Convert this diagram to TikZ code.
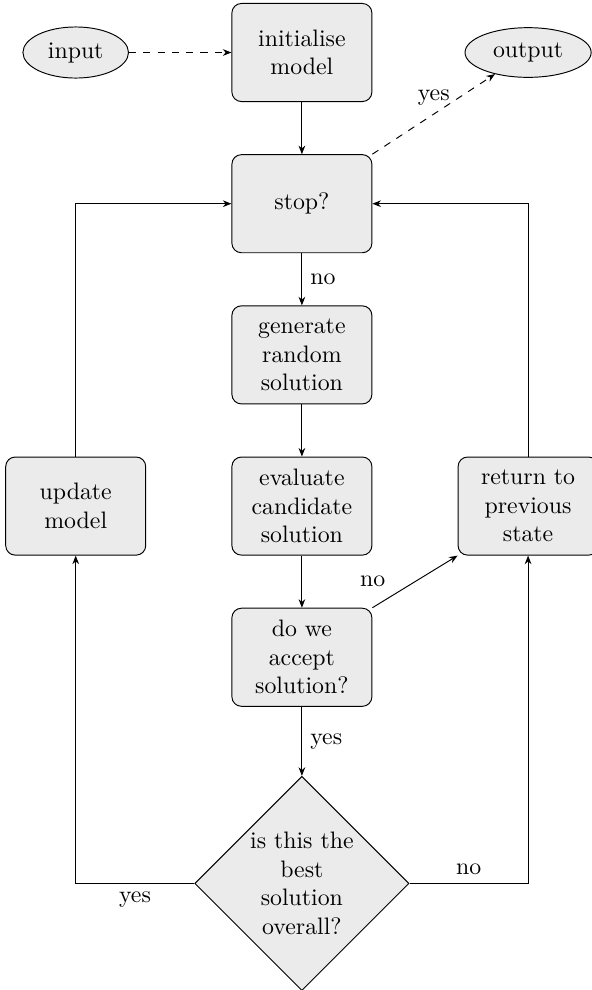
\documentclass[tikz,border=0pt]{standalone}
\usetikzlibrary{positioning, shapes.geometric, arrows.meta}

\begin{document}
\begin{tikzpicture}[node distance=63.5pt, >={Stealth[length=3.6pt, width=2.8pt]}]
    \tikzstyle{block} = [rectangle, draw, rounded corners=4pt, fill=black!8, align=center, minimum width=58.8pt, minimum height=41.2pt]
    \tikzstyle{io} = [ellipse, draw, fill=black!8, inner xsep=4pt]
    \tikzstyle{decision} = [diamond, draw, fill=black!8, align=center, minimum size=90pt, inner sep=0pt]

    \useasboundingbox (-126.8pt,22.05pt) rectangle (121.8pt,-393.75pt);

    % Middle column
    \node[block] (init) {initialise\\model};
    \node[block] (stop) [below of=init] {stop?};
    \node[block] (generate) [below of=stop] {generate\\random\\solution};
    \node[block] (evaluate) [below of=generate] {evaluate\\candidate\\solution};
    \node[block] (accept) [below of=evaluate] {do we\\accept\\solution?};
    \node[decision] (best) [below of=accept, node distance=95pt] {is this the\\best\\solution\\overall?};

    % Side columns
    \node[block] (update) [left of=evaluate, node distance=95pt] {update\\model};
    \node[block] (return) [right of=evaluate, node distance=95pt] {return to\\previous\\state};
    \node[io] (input) [left of=init, node distance=95pt] {input};
    \node[io] (output) [right of=init, node distance=95pt] {output};

    % Arrows
    \draw[->, dashed] (input) -- (init);
    \draw[->] (init) -- (stop);
    \draw[->, dashed] (stop.north east) -- node[above] {yes} (output);
    \draw[->] (stop) -- node[right] {no} (generate);
    \draw[->] (generate) -- (evaluate);
    \draw[->] (evaluate) -- (accept);
    \draw[->] (accept.north east) -- node[above left, near start] {no} (return.south west);
    \draw[->] (accept) -- node[right] {yes} (best);
    \draw[->] (best) -| node[below, near start] {yes} (update);
    \draw[->] (best) -| node[above, near start] {no} (return);
    \draw[->] (update) |- (stop);
    \draw[->] (return) |- (stop);
\end{tikzpicture}
\end{document}
